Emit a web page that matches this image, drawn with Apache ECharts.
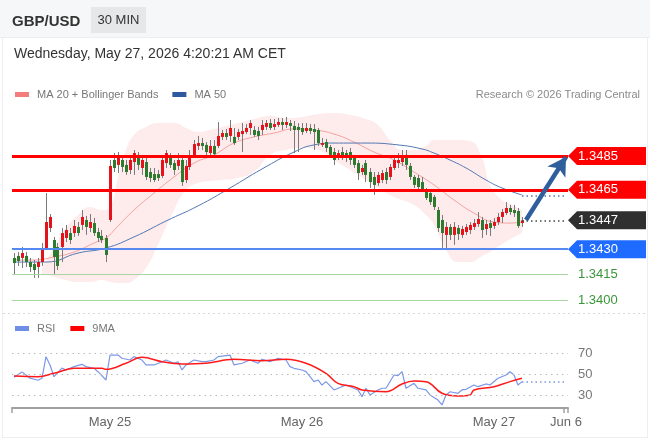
<!DOCTYPE html>
<html><head><meta charset="utf-8">
<script src="https://cdn.jsdelivr.net/npm/echarts@6/dist/echarts.min.js"></script>
<style>
html,body{margin:0;padding:0;background:#fff;}
#wrap{position:relative;width:650px;height:441px;overflow:hidden;font-family:"Liberation Sans",Arial,sans-serif;background:#fff;}
#head{position:absolute;left:0;top:0;width:650px;height:37px;background:#f6f7f8;border-bottom:1px solid #eceef0;}
#card{position:absolute;left:2px;top:38px;width:644px;height:399px;border-left:1px solid #eceef0;border-right:1px solid #eceef0;border-bottom:1px solid #eceef0;}
#sym{position:absolute;left:12px;top:12px;font-size:15px;font-weight:bold;color:#333;line-height:18px;}
#tf{position:absolute;left:91px;top:7px;width:55px;height:26px;line-height:26px;text-align:center;background:#e6e7e9;font-size:13px;color:#333;}
#date{position:absolute;left:14px;top:45px;font-size:14px;color:#333;line-height:16px;}
#chart{position:absolute;left:0;top:0;width:650px;height:441px;}
</style></head>
<body>
<div id="wrap">
  <div id="head"></div>
  <div id="card"></div>
  <div id="chart"></div>
  <div id="sym">GBP/USD</div>
  <div id="tf">30 MIN</div>
  <div id="date">Wednesday, May 27, 2026 4:20:21 AM CET</div>
</div>
<script>
// ---------- data ----------
const N_CAT = 139;
const dayLabels = ['May 25', 'May 26', 'May 27', 'Jun 6'];
const dayLabelIdx = [24, 72, 120, 138];

const openP = [
1.34248,1.34260,1.34248,1.34260,1.34224,1.34212,1.34195,1.34224,1.34307,1.34425,
1.34354,1.34313,1.34313,1.34366,1.34395,1.34395,1.34431,1.34443,1.34472,1.34425,
1.34454,1.34401,1.34378,1.34366,1.34472,1.34826,1.34797,1.34826,1.34797,1.34767,
1.34814,1.34856,1.34779,1.34814,1.34755,1.34743,1.34743,1.34732,1.34808,1.34838,
1.34808,1.34791,1.34826,1.34708,1.34785,1.34850,1.34909,1.34926,1.34915,1.34867,
1.34909,1.34909,1.34962,1.34985,1.34968,1.34962,1.34962,1.34979,1.34991,1.35015,
1.35003,1.34997,1.35003,1.35021,1.35044,1.35021,1.35033,1.35050,1.35033,1.35044,
1.35027,1.35021,1.35015,1.34997,1.35015,1.35009,1.35003,1.34915,1.34932,1.34903,
1.34873,1.34850,1.34873,1.34867,1.34873,1.34838,1.34808,1.34755,1.34808,1.34755,
1.34726,1.34690,1.34708,1.34755,1.34726,1.34779,1.34808,1.34814,1.34856,1.34791,
1.34726,1.34720,1.34696,1.34649,1.34631,1.34608,1.34531,1.34472,1.34384,1.34431,
1.34384,1.34425,1.34384,1.34401,1.34413,1.34431,1.34448,1.34472,1.34419,1.34454,
1.34437,1.34460,1.34490,1.34513,1.34543,1.34531,1.34525,1.34454];
const closeP = [
1.34218,1.34230,1.34277,1.34224,1.34195,1.34177,1.34224,1.34307,1.34460,1.34490,
1.34254,1.34201,1.34395,1.34413,1.34354,1.34437,1.34395,1.34490,1.34431,1.34460,
1.34395,1.34366,1.34354,1.34266,1.34791,1.34779,1.34838,1.34785,1.34755,1.34826,
1.34867,1.34797,1.34826,1.34726,1.34720,1.34708,1.34720,1.34826,1.34867,1.34797,
1.34767,1.34826,1.34696,1.34791,1.34844,1.34920,1.34926,1.34909,1.34873,1.34909,
1.34861,1.34968,1.34985,1.34962,1.35015,1.34926,1.34991,1.34997,1.35015,1.35044,
1.34974,1.34968,1.35033,1.35044,1.35015,1.35038,1.35050,1.35033,1.35050,1.35027,
1.35003,1.35003,1.34991,1.35015,1.34997,1.34991,1.34926,1.34926,1.34897,1.34856,
1.34826,1.34867,1.34844,1.34838,1.34826,1.34797,1.34749,1.34779,1.34738,1.34696,
1.34679,1.34738,1.34749,1.34708,1.34785,1.34826,1.34826,1.34844,1.34797,1.34726,
1.34679,1.34667,1.34649,1.34602,1.34578,1.34549,1.34425,1.34395,1.34431,1.34384,
1.34431,1.34389,1.34419,1.34431,1.34443,1.34454,1.34478,1.34413,1.34448,1.34425,
1.34460,1.34490,1.34519,1.34543,1.34519,1.34513,1.34437,1.34470];
const lowP = [
1.34148,1.34201,1.34189,1.34195,1.34165,1.34130,1.34130,1.34201,1.34295,1.34401,
1.34148,1.34177,1.34224,1.34342,1.34330,1.34372,1.34378,1.34413,1.34384,1.34401,
1.34378,1.34342,1.34336,1.34224,1.34460,1.34755,1.34749,1.34755,1.34738,1.34743,
1.34738,1.34767,1.34738,1.34708,1.34696,1.34696,1.34702,1.34720,1.34779,1.34779,
1.34738,1.34767,1.34673,1.34690,1.34767,1.34838,1.34885,1.34885,1.34844,1.34850,
1.34844,1.34897,1.34944,1.34944,1.34932,1.34915,1.34944,1.34873,1.34979,1.34974,
1.34962,1.34944,1.34974,1.35003,1.35003,1.35003,1.35021,1.35003,1.35015,1.34997,
1.34867,1.34873,1.34974,1.34985,1.34979,1.34885,1.34909,1.34903,1.34873,1.34838,
1.34797,1.34826,1.34826,1.34814,1.34797,1.34779,1.34708,1.34738,1.34696,1.34661,
1.34620,1.34673,1.34690,1.34684,1.34708,1.34767,1.34779,1.34791,1.34767,1.34708,
1.34661,1.34649,1.34637,1.34590,1.34561,1.34531,1.34401,1.34295,1.34295,1.34354,
1.34325,1.34354,1.34366,1.34384,1.34389,1.34413,1.34431,1.34366,1.34384,1.34378,
1.34419,1.34443,1.34454,1.34502,1.34502,1.34490,1.34425,1.34431];
const highP = [
1.34277,1.34283,1.34313,1.34283,1.34248,1.34236,1.34248,1.34336,1.34631,1.34507,
1.34372,1.34336,1.34425,1.34443,1.34425,1.34472,1.34460,1.34531,1.34496,1.34507,
1.34484,1.34425,1.34413,1.34384,1.34826,1.34867,1.34873,1.34844,1.34826,1.34850,
1.34885,1.34873,1.34844,1.34838,1.34779,1.34779,1.34767,1.34844,1.34885,1.34867,
1.34826,1.34867,1.34856,1.34826,1.34885,1.34944,1.34968,1.34956,1.34932,1.34944,
1.34944,1.35050,1.35003,1.35009,1.35062,1.35015,1.35009,1.35044,1.35038,1.35062,
1.35027,1.35021,1.35062,1.35062,1.35068,1.35068,1.35074,1.35074,1.35080,1.35062,
1.35056,1.35044,1.35044,1.35044,1.35038,1.35038,1.35015,1.34956,1.34950,1.34915,
1.34897,1.34885,1.34903,1.34885,1.34897,1.34856,1.34826,1.34797,1.34826,1.34779,
1.34755,1.34755,1.34767,1.34779,1.34802,1.34838,1.34867,1.34885,1.34885,1.34808,
1.34738,1.34738,1.34726,1.34661,1.34649,1.34620,1.34549,1.34502,1.34460,1.34448,
1.34460,1.34443,1.34437,1.34448,1.34460,1.34478,1.34519,1.34490,1.34472,1.34472,
1.34484,1.34513,1.34537,1.34578,1.34561,1.34561,1.34543,1.34490];

const ma20Idx = [0,5,10,15,20,23,26,30,35,40,45,50,55,60,65,70,75,80,85,90,95,100,105,110,115,120,124,127];
const ma20Val = [1.34236,1.34236,1.34254,1.34283,1.34336,1.34366,1.34437,1.34531,1.34631,1.34726,1.34808,1.34856,1.34926,1.34962,1.34985,1.35009,1.35003,1.34979,1.34932,1.34873,1.34826,1.34755,1.34679,1.34590,1.34513,1.34460,1.34454,1.34460];

const ma50Idx = [0,8,16,23,30,38,46,54,62,70,75,80,88,96,102,105,109,113,118,122,127];
const ma50Val = [1.34224,1.34224,1.34277,1.34307,1.34372,1.34466,1.34555,1.34661,1.34773,1.34873,1.34915,1.34926,1.34926,1.34915,1.34891,1.34867,1.34826,1.34779,1.34708,1.34661,1.34620];
const ma50Projection = 1.34614;

const bbIdx = [7,10,13,16,19,22,24,26,28,30,33,36,40,43,46,49,52,56,60,64,68,72,76,80,84,88,91,94,97,100,103,105,108,111,114,117,119,122,125,127];
const bbUpper = [1.34189,1.34307,1.34425,1.34502,1.34549,1.34531,1.34549,1.34720,1.34885,1.34974,1.35021,1.35044,1.35044,1.35015,1.34991,1.35003,1.35021,1.35044,1.35068,1.35086,1.35074,1.35080,1.35097,1.35103,1.35092,1.35068,1.35033,1.34944,1.34885,1.34885,1.34909,1.34944,1.34944,1.34944,1.34938,1.34838,1.34679,1.34590,1.34555,1.34531];
const bbLower = [1.34153,1.34136,1.34118,1.34106,1.34106,1.34118,1.34106,1.34100,1.34100,1.34118,1.34189,1.34325,1.34531,1.34649,1.34690,1.34702,1.34708,1.34720,1.34755,1.34856,1.34885,1.34897,1.34885,1.34826,1.34767,1.34708,1.34661,1.34620,1.34590,1.34561,1.34502,1.34443,1.34295,1.34224,1.34224,1.34260,1.34283,1.34330,1.34372,1.34395];

const resistances = [1.3485, 1.3465];
const pivot = 1.3447;
const supports = [1.3430, 1.3415, 1.3400];
const arrowFrom = 1.34472, arrowTo = 1.34844;

const rsiIdx = [0,2,4,6,7,8,9,10,12,13,15,17,18,20,21,23,24,26,27,29,30,32,33,35,37,38,40,41,42,43,45,47,48,50,51,54,55,57,59,61,62,64,66,68,69,70,72,73,75,76,77,78,80,83,86,87,88,89,91,92,93,95,96,97,98,100,101,103,104,106,107,108,109,111,112,113,115,116,118,119,121,123,124,125,126,127];
const rsiVal = [47,52,46,44,46,66.5,58.6,47.4,55.6,53.8,57,59.2,57,55.4,52.2,44.3,68,68,65,63.3,66.5,63.3,58.6,58.6,61.7,63.3,60.2,61.7,53.8,58.6,63.3,61.7,61.7,63.3,66.5,68,58.6,60.2,63.3,60.2,64,61.7,64.9,63.3,57,55.4,53.8,52.2,42.7,44.3,39.5,42.7,34.8,39.5,34.8,28.4,36.4,30,34.8,36.4,36.4,49,48.4,52.2,36.4,41.1,36.4,34.8,30,25.2,20.5,30,33.1,31.6,34.8,35.4,39.5,37.9,40.5,39.5,45.9,49,52.2,49,39.5,42.7];
const rsiProjection = 43;
const ma9Idx = [0,6,10,15,22,23,28,32,37,42,48,55,62,68,73,78,81,85,87,93,97,100,103,107,111,114,115,120,124,127];
const ma9Val = [48,47.4,50.6,55.4,55.4,54.4,60.2,65.9,61.7,59.5,60.2,64,62.7,64,60.2,50.6,41.1,37.9,34.8,33.1,40.5,43.3,42.7,31.6,29,30,34.8,37.9,42.7,45.9];
const rsiLevels = [70, 50, 30];

// ---------- chart ----------
const chart = echarts.init(document.getElementById('chart'));
const cats = Array.from({length: N_CAT}, (_, i) => String(i));
const pairs = (idx, val) => idx.map((i, k) => [i, val[k]]);
const candleData = openP.map((o, i) => [i, o, closeP[i], lowP[i], highP[i]]);
const lastIdx = openP.length - 1;
const FONT = '"Liberation Sans", Arial, sans-serif';

function renderCandle(params, api) {
  const i = api.value(0), o = api.value(1), c = api.value(2), l = api.value(3), h = api.value(4);
  const pO = api.coord([i, o]), pC = api.coord([i, c]), pL = api.coord([i, l]), pH = api.coord([i, h]);
  const cx = Math.floor(pO[0]);
  const top = Math.min(pO[1], pC[1]), bot = Math.max(pO[1], pC[1]);
  const up = c >= o;
  return {
    type: 'group',
    children: [
      {type: 'line', shape: {x1: cx + 0.5, y1: pH[1], x2: cx + 0.5, y2: pL[1]}, style: {stroke: '#7a7a7a', lineWidth: 1}},
      {type: 'rect', shape: {x: cx - 1, y: top, width: 3, height: Math.max(bot - top, 1)}, style: {fill: up ? '#e4121b' : '#2b7a2e'}}
    ]
  };
}

const boxLevels = [
  {v: resistances[0], color: '#ff0000'},
  {v: resistances[1], color: '#ff0000'},
  {v: pivot, color: '#2f2f2f'},
  {v: supports[0], color: '#1f6bff'}
];

const option = {
  animation: false,
  textStyle: {fontFamily: FONT},
  grid: [
    {left: 12, width: 556, top: 110, height: 200},
    {left: 12, width: 556, top: 322, height: 86}
  ],
  xAxis: [
    {type: 'category', gridIndex: 0, data: cats, boundaryGap: true, show: false},
    {type: 'category', gridIndex: 1, data: cats, boundaryGap: true,
     axisLine: {lineStyle: {color: '#a0a0a0', width: 2}},
     axisTick: {show: true, length: 5, lineStyle: {color: '#a0a0a0', width: 1.5},
                interval: (i) => i === 0 || i === N_CAT - 1},
     axisLabel: {color: '#666', fontSize: 13, margin: 8,
                 interval: (i) => dayLabelIdx.includes(i),
                 formatter: (v, i) => { const k = dayLabelIdx.indexOf(Number(v)); return k >= 0 ? dayLabels[k] : ''; }},
     splitLine: {show: false}}
  ],
  yAxis: [
    {type: 'value', gridIndex: 0, min: 1.33941, max: 1.35121, show: false, splitLine: {show: false}},
    {type: 'value', gridIndex: 1, min: 17.6, max: 99.5, show: false, splitLine: {show: false}}
  ],
  legend: [
    {data: [{name: 'MA 20 + Bollinger Bands', itemStyle: {color: '#f47c7c'}}, {name: 'MA 50', itemStyle: {color: '#2d5a9e'}}],
     left: 15, top: 89, padding: 0, icon: 'rect', itemWidth: 14, itemHeight: 5, itemGap: 14,
     textStyle: {color: '#777', fontSize: 11, padding: [0, 0, 0, 3]}, selectedMode: false},
    {data: [{name: 'RSI', itemStyle: {color: '#6f8fe6'}}, {name: '9MA', itemStyle: {color: '#ff0000'}}],
     left: 15, top: 323, padding: 0, icon: 'rect', itemWidth: 14, itemHeight: 5, itemGap: 15,
     textStyle: {color: '#777', fontSize: 11, padding: [0, 0, 0, 3]}, selectedMode: false}
  ],
  graphic: [
    {type: 'text', right: 10, top: 89, style: {text: 'Research \u00a9 2026 Trading Central', fill: '#8a8a8a', font: '11px ' + FONT}},
    {type: 'line', shape: {x1: 3, y1: 313.5, x2: 646, y2: 313.5}, style: {stroke: '#d8d8d8', lineWidth: 1, lineDash: [2, 3]}}
  ],
  series: [
    {name: 'bbLow', type: 'line', xAxisIndex: 0, yAxisIndex: 0, stack: 'bb', smooth: true, symbol: 'none',
     data: pairs(bbIdx, bbLower), lineStyle: {opacity: 0}, silent: true, z: 1},
    {name: 'bbBand', type: 'line', xAxisIndex: 0, yAxisIndex: 0, stack: 'bb', smooth: true, symbol: 'none',
     data: bbIdx.map((i, k) => [i, bbUpper[k] - bbLower[k]]), lineStyle: {opacity: 0},
     areaStyle: {color: 'rgba(244, 90, 90, 0.17)'}, silent: true, z: 1},
    {name: 'MA 20 + Bollinger Bands', type: 'line', xAxisIndex: 0, yAxisIndex: 0, smooth: true, symbol: 'none',
     data: pairs(ma20Idx, ma20Val), lineStyle: {color: '#f3a0a0', width: 1}, itemStyle: {color: '#f47c7c'}, z: 2},
    {name: 'MA 50', type: 'line', xAxisIndex: 0, yAxisIndex: 0, smooth: true, symbol: 'none',
     data: pairs(ma50Idx, ma50Val), lineStyle: {color: '#5277b3', width: 1}, itemStyle: {color: '#2d5a9e'}, z: 2,
     markLine: {symbol: 'none', silent: true, precision: 5, label: {show: false},
       data: [[{coord: [lastIdx, ma50Projection]}, {coord: [N_CAT - 1, ma50Projection]}]],
       lineStyle: {color: '#5277b3', width: 1.5, type: [1.5, 3]}}},
    {name: 'candles', type: 'custom', xAxisIndex: 0, yAxisIndex: 0, renderItem: renderCandle,
     data: candleData, encode: {x: 0, y: [1, 2, 3, 4]}, z: 3},
    {name: 'levels', type: 'line', xAxisIndex: 0, yAxisIndex: 0, z: 4, symbol: 'none', silent: true,
     data: closeP.map((c, i) => [i, c]), lineStyle: {opacity: 0},
     markLine: {symbol: 'none', silent: true, precision: 5, label: {show: false},
       data: [
         {yAxis: resistances[0], lineStyle: {color: '#ff0000', width: 3, type: 'solid'}},
         {yAxis: resistances[1], lineStyle: {color: '#ff0000', width: 3, type: 'solid'}},
         {yAxis: supports[0], lineStyle: {color: '#5588f0', width: 2, type: 'solid'}},
         {yAxis: supports[1], lineStyle: {color: '#a9d6a2', width: 1, type: 'solid'},
          label: {show: true, position: 'end', distance: 10, color: '#3a963a', fontSize: 13, formatter: supports[1].toFixed(4)}},
         {yAxis: supports[2], lineStyle: {color: '#a9d6a2', width: 1, type: 'solid'},
          label: {show: true, position: 'end', distance: 10, color: '#3a963a', fontSize: 13, formatter: supports[2].toFixed(4)}},
         [{coord: [lastIdx, pivot], lineStyle: {color: '#444', width: 1.5, type: [1.5, 3]}}, {coord: [N_CAT - 1, pivot]}]
       ]},
     markPoint: {silent: true, symbol: 'path://M0,9L9,0L78,0L78,18L9,18Z', symbolSize: [78, 18], symbolKeepAspect: false,
       symbolOffset: [41, 0],
       label: {show: true, position: 'inside', color: '#fff', fontSize: 13, offset: [-9, 0], formatter: '{c}'},
       data: boxLevels.map(b => ({coord: [N_CAT - 1, b.v], value: b.v.toFixed(4), itemStyle: {color: b.color}}))}},
    {name: 'arrow', type: 'line', xAxisIndex: 0, yAxisIndex: 0, z: 5, symbol: 'none', silent: true,
     data: closeP.map((c, i) => [i, c]), lineStyle: {opacity: 0},
     markLine: {symbol: ['none', 'arrow'], symbolSize: [16, 18], silent: true, precision: 5, label: {show: false},
       lineStyle: {color: '#2f5e9d', width: 4.5, type: 'solid'},
       data: [[{coord: [lastIdx + 1, arrowFrom]}, {coord: [N_CAT - 1, arrowTo]}]]}},
    {name: 'RSI', type: 'line', xAxisIndex: 1, yAxisIndex: 1, symbol: 'none', smooth: false,
     data: pairs(rsiIdx, rsiVal), lineStyle: {color: '#7b97e8', width: 1.2}, itemStyle: {color: '#6f8fe6'}, z: 3,
     markLine: {symbol: 'none', silent: true, precision: 2,
       data: rsiLevels.map(v => ({yAxis: v, lineStyle: {color: '#b8b8b8', width: 1, type: [1.5, 4]},
                                  label: {show: true, position: 'end', distance: 10, color: '#777', fontSize: 13, formatter: String(v)}}))
         .concat([[{coord: [lastIdx, rsiProjection], lineStyle: {color: '#7b97e8', width: 1.5, type: [1.5, 3]}, label: {show: false}},
                   {coord: [N_CAT - 1, rsiProjection]}]])}},
    {name: '9MA', type: 'line', xAxisIndex: 1, yAxisIndex: 1, symbol: 'none', smooth: 0.4,
     data: pairs(ma9Idx, ma9Val), lineStyle: {color: '#ff1a1a', width: 1.5}, itemStyle: {color: '#ff0000'}, z: 4}
  ]
};
chart.setOption(option);
</script>
</body></html>
